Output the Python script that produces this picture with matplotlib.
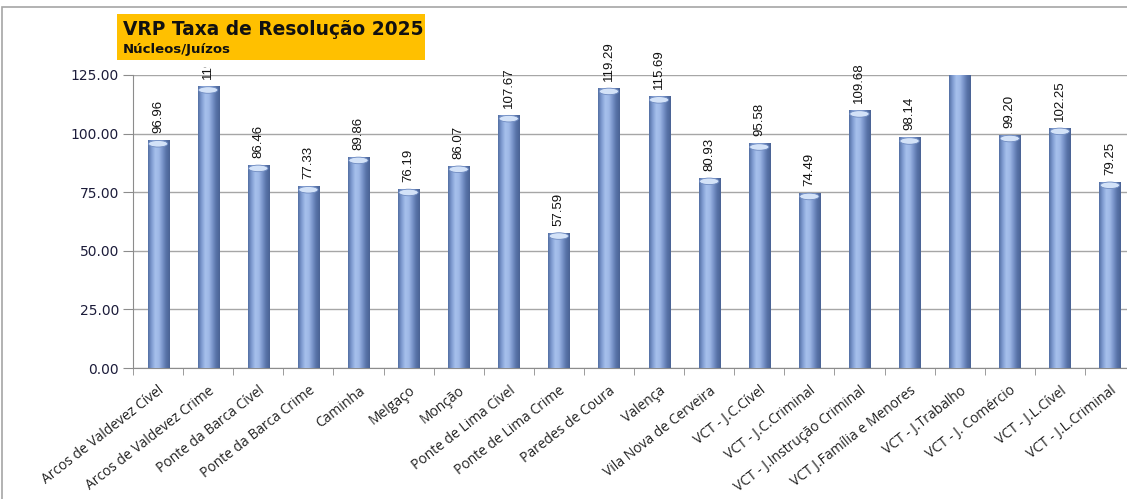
import matplotlib
matplotlib.use('Agg')
import matplotlib.pyplot as plt
import numpy as np
from matplotlib.colors import LinearSegmentedColormap
from matplotlib.patches import Rectangle, Ellipse
from matplotlib.transforms import ScaledTranslation

categories = ['Arcos de Valdevez Cível', 'Arcos de Valdevez Crime', 'Ponte da Barca Cível',
              'Ponte da Barca Crime', 'Caminha', 'Melgaço', 'Monção', 'Ponte de Lima Cível',
              'Ponte de Lima Crime', 'Paredes de Coura', 'Valença', 'Vila Nova de Cerveira',
              'VCT - J.C.Cível', 'VCT - J.C.Criminal', 'VCT - J.Instrução Criminal',
              'VCT J.Família e Menores', 'VCT - J.Trabalho', 'VCT - J. Comércio',
              'VCT - J.L.Cível', 'VCT - J.L.Criminal']
# J.Trabalho goes off the scale in the original, its label is not visible -> estimate
values = [96.96, 119.90, 86.46, 77.33, 89.86, 76.19, 86.07, 107.67, 57.59, 119.29,
          115.69, 80.93, 95.58, 74.49, 109.68, 98.14, 165.00, 99.20, 102.25, 79.25]
yticks = [0, 25, 50, 75, 100, 125]

fig = plt.figure(figsize=(11.27, 4.99), dpi=100)
ax = fig.add_axes([133/1127, 131/499, 1002/1127, 293/499])

# outer chart frame
fig.patches.append(Rectangle((2/1127, -0.05), 1.2, 1.05 - 7/499, transform=fig.transFigure,
                             fill=False, edgecolor='#A6A6A6', lw=1.2))

x = np.arange(len(categories))
w = 0.42
bars = ax.bar(x, values, width=w, color='#7E9AD0', zorder=2)

cmap = LinearSegmentedColormap.from_list('cyl', ['#5470A4', '#819DD2', '#A6C0EC', '#9EB8E6',
                                                 '#7994CA', '#5873A8', '#4A6395'])
grad = np.linspace(0, 1, 64).reshape(1, -1)
for b, v in zip(bars, values):
    x0 = b.get_x()
    ax.imshow(grad, extent=[x0, x0 + w, 0, v], aspect='auto', cmap=cmap, zorder=3,
              interpolation='bilinear')
    ax.add_patch(Ellipse((x0 + w/2, v - 1.3), w * 0.92, 2.8, facecolor='#D3E2F8',
                         edgecolor='#6E8AC0', lw=0.6, zorder=4))

top = yticks[-1]
for xi, v in zip(x, values):
    if v > top:
        continue  # label falls outside the chart, not shown
    t = ax.text(xi, v + 3.2, f'{v:.2f}', rotation=90, ha='center', va='bottom',
                fontsize=9.5, family='Liberation Sans', color='#111111', zorder=5)
    t.set_clip_on(False)

ax.set_xlim(-0.5, len(categories) - 0.5)
ax.set_ylim(0, top)
ax.set_yticks(yticks)
ax.set_yticklabels([f'{t:.2f}' for t in yticks], fontsize=10, family='DejaVu Sans',
                   color='#1C1C3A')
ax.set_xticks(x)
ax.set_xticklabels(categories, rotation=38, ha='right', rotation_mode='anchor',
                   fontsize=10, family='Open Sans', color='#222222')
shift = ScaledTranslation(-0.05, 0, fig.dpi_scale_trans)
for lab in ax.get_xticklabels():
    lab.set_transform(lab.get_transform() + shift)
ax.set_xticks(np.arange(-0.5, len(categories), 1), minor=True)
ax.tick_params(axis='x', which='major', length=0, pad=11)
ax.tick_params(axis='x', which='minor', length=5, color='#8C8C8C')
ax.tick_params(axis='y', length=7, color='#8C8C8C', pad=3)

ax.grid(axis='y', color='#A6A6A6', lw=1, zorder=0)
ax.set_axisbelow(True)
for s in ['top', 'right']:
    ax.spines[s].set_visible(False)
for s in ['left', 'bottom']:
    ax.spines[s].set_color('#8C8C8C')

# title box (with its white margin, which hides the top of the labels beneath it)
fig.patches.append(Rectangle((117/1127, 1 - 67/499), 308/1127, 7/499,
                             transform=fig.transFigure, facecolor='white',
                             edgecolor='none', zorder=10))
fig.patches.append(Rectangle((117/1127, 1 - 60/499), 308/1127, 46/499,
                             transform=fig.transFigure, facecolor='#FFC000',
                             edgecolor='none', zorder=10))
fig.text(123/1127, 1 - 35/499, 'VRP Taxa de Resolução 2025', fontsize=13.4, fontweight='bold',
         family='DejaVu Sans', color='#111111', va='baseline', zorder=11)
fig.text(123/1127, 1 - 53/499, 'Núcleos/Juízos', fontsize=9.5, fontweight='bold',
         family='DejaVu Sans', color='#111111', va='baseline', zorder=11)

fig.savefig('out.png', dpi=100, facecolor='white')
